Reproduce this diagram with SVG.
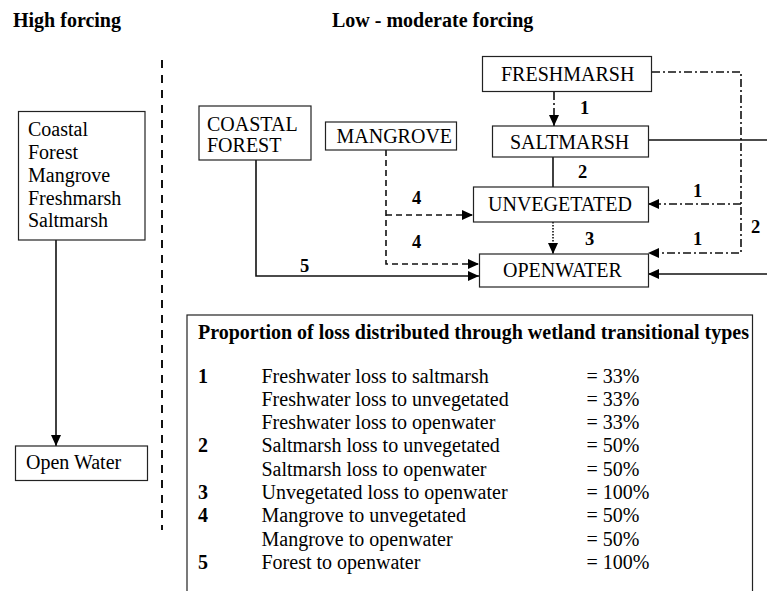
<svg xmlns="http://www.w3.org/2000/svg" width="767" height="591" viewBox="0 0 767 591" font-family="Liberation Serif, Times New Roman, serif">
<style>
  .t { font-family: 'Liberation Serif', serif; font-size: 20px; fill: #000; }
  .b { font-family: 'Liberation Serif', serif; font-size: 20px; font-weight: bold; fill: #000; }
  .lb { font-family: 'Liberation Serif', serif; font-size: 18.5px; font-weight: bold; fill: #000; }
  .box { fill: #fff; stroke: #222; stroke-width: 1.2; }
  .ln { fill: none; stroke: #111; stroke-width: 1.6; }
  .dd { stroke-dasharray: 8 3 2 3; }
  .da { stroke-dasharray: 6 4; }
  .dt { stroke-dasharray: 1.5 1.5; }
</style>
<defs>
  <marker id="ah" markerUnits="userSpaceOnUse" markerWidth="11" markerHeight="10" refX="11" refY="5" orient="auto">
    <path d="M0,0 L11,5 L0,10 z" fill="#000"/>
  </marker>
</defs>
<rect width="767" height="591" fill="#fff"/>

<g id="headings">
  <text class="b" x="13" y="27">High forcing</text>
  <text class="b" x="332" y="27">Low - moderate forcing</text>
</g>

<g id="separator">
  <line x1="162" y1="60" x2="162" y2="530" stroke="#111" stroke-width="2" stroke-dasharray="8 7"/>
</g>

<g id="connectors">
  <line class="ln" x1="56" y1="240" x2="56" y2="446" marker-end="url(#ah)"/>
  <line class="ln dd" x1="554" y1="92" x2="554" y2="126" marker-end="url(#ah)"/>
  <line class="ln" x1="553" y1="157" x2="553" y2="187"/>
  <line class="ln dt" x1="553" y1="222" x2="553" y2="254" marker-end="url(#ah)"/>
  <path class="ln dd" d="M652,72 H741 V253 H648" marker-end="url(#ah)"/>
  <path class="ln dd" d="M741,204 H648" marker-end="url(#ah)"/>
  <path class="ln" d="M648,140 H767"/>
  <path class="ln" d="M767,274 H648" marker-end="url(#ah)"/>
  <path class="ln" d="M256,160 V276 H479" marker-end="url(#ah)"/>
  <path class="ln da" d="M386,150 V264 H479" marker-end="url(#ah)"/>
  <path class="ln da" d="M386,215 H473" marker-end="url(#ah)"/>
</g>

<g id="connector-labels">
  <text class="lb" x="580" y="114">1</text>
  <text class="lb" x="578" y="178">2</text>
  <text class="lb" x="585" y="245">3</text>
  <text class="lb" x="693" y="197">1</text>
  <text class="lb" x="693" y="245">1</text>
  <text class="lb" x="751" y="233">2</text>
  <text class="lb" x="412" y="204">4</text>
  <text class="lb" x="412" y="248">4</text>
  <text class="lb" x="300" y="272">5</text>
</g>

<g id="high-forcing-types">
  <rect class="box" x="18.5" y="111.5" width="126.5" height="128.5"/>
  <text class="t" x="28" y="136">Coastal</text>
  <text class="t" x="28" y="158.5">Forest</text>
  <text class="t" x="28" y="181.5">Mangrove</text>
  <text class="t" x="28" y="204.5">Freshmarsh</text>
  <text class="t" x="28" y="227">Saltmarsh</text>
</g>

<g id="open-water-high">
  <rect class="box" x="15.5" y="446" width="132" height="34.5"/>
  <text class="t" x="26" y="469">Open Water</text>
</g>

<g id="coastal-forest">
  <rect class="box" x="199" y="106" width="112" height="54"/>
  <text class="t" x="207" y="131">COASTAL</text>
  <text class="t" x="207" y="152">FOREST</text>
</g>

<g id="mangrove">
  <rect class="box" x="325.5" y="122" width="131" height="28"/>
  <text class="t" x="336.5" y="143">MANGROVE</text>
</g>

<g id="freshmarsh">
  <rect class="box" x="482.5" y="56.5" width="169" height="35"/>
  <text class="t" x="501" y="81">FRESHMARSH</text>
</g>

<g id="saltmarsh">
  <rect class="box" x="492.5" y="126" width="156" height="31"/>
  <text class="t" x="510" y="149">SALTMARSH</text>
</g>

<g id="unvegetated">
  <rect class="box" x="473.5" y="187" width="175" height="35"/>
  <text class="t" x="488" y="211">UNVEGETATED</text>
</g>

<g id="openwater">
  <rect class="box" x="479.5" y="254" width="169" height="33"/>
  <text class="t" x="503" y="277">OPENWATER</text>
</g>

<g id="proportion-table">
  <rect class="box" x="187" y="315" width="565.5" height="300"/>
  <text class="b" x="198" y="339">Proportion of loss distributed through wetland transitional types</text>
  <text class="b" x="198" y="382.5">1</text>
  <text class="t" x="261.5" y="382.5">Freshwater loss to saltmarsh</text>
  <text class="t" x="586.5" y="382.5">= 33%</text>
  <text class="t" x="261.5" y="405.8">Freshwater loss to unvegetated</text>
  <text class="t" x="586.5" y="405.8">= 33%</text>
  <text class="t" x="261.5" y="429.1">Freshwater loss to openwater</text>
  <text class="t" x="586.5" y="429.1">= 33%</text>
  <text class="b" x="198" y="452.4">2</text>
  <text class="t" x="261.5" y="452.4">Saltmarsh loss to unvegetated</text>
  <text class="t" x="586.5" y="452.4">= 50%</text>
  <text class="t" x="261.5" y="475.7">Saltmarsh loss to openwater</text>
  <text class="t" x="586.5" y="475.7">= 50%</text>
  <text class="b" x="198" y="499">3</text>
  <text class="t" x="261.5" y="499">Unvegetated loss to openwater</text>
  <text class="t" x="586.5" y="499">= 100%</text>
  <text class="b" x="198" y="522.3">4</text>
  <text class="t" x="261.5" y="522.3">Mangrove to unvegetated</text>
  <text class="t" x="586.5" y="522.3">= 50%</text>
  <text class="t" x="261.5" y="545.6">Mangrove to openwater</text>
  <text class="t" x="586.5" y="545.6">= 50%</text>
  <text class="b" x="198" y="568.9">5</text>
  <text class="t" x="261.5" y="568.9">Forest to openwater</text>
  <text class="t" x="586.5" y="568.9">= 100%</text>
</g>
</svg>
